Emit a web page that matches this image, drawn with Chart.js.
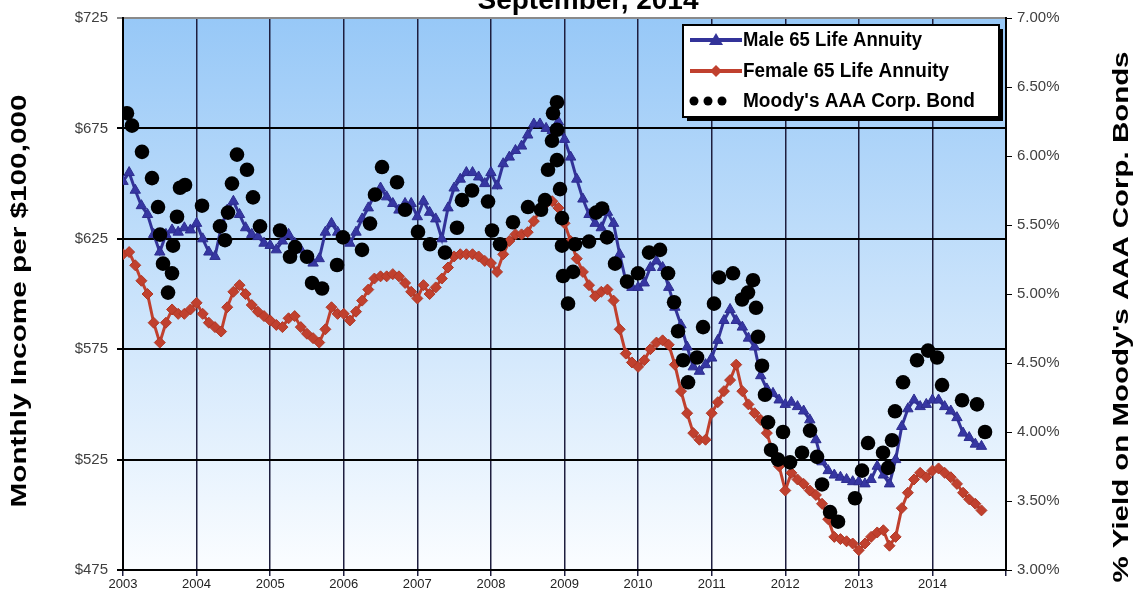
<!DOCTYPE html>
<html><head><meta charset="utf-8">
<script src="https://cdn.jsdelivr.net/npm/chart.js@4.4.0/dist/chart.umd.min.js"></script>
<style>html,body{margin:0;padding:0;background:#fff;overflow:hidden}</style>
</head><body>
<canvas id="c" width="1141" height="595"></canvas>
<script>
// ---- Data ----
const titleText = 'September, 2014';
const leftAxisTitle = 'Monthly Income per $100,000';
const rightAxisTitle = "% Yield on Moody's AAA Corp. Bonds";
const seriesNames = ['Male 65 Life Annuity', 'Female 65 Life Annuity', "Moody's AAA Corp. Bond"];
const startYear = 2003;            // first monthly point = January 2003
const yearTicks = [2003,2004,2005,2006,2007,2008,2009,2010,2011,2012,2013,2014];

const maleIncome = [
 651,655,647,640,636,627,619,627,629,628,630,629,
 632,625,619,617,630,638,642,636,630,627,626,623,
 622,620,624,627,623,620,617,614,616,628,632,628,
 626,623,628,634,639,645,648,644,641,638,641,641,
 635,642,637,634,625,639,648,652,655,655,653,650,
 655,649,659,662,665,667,672,677,677,675,674,678,
 670,662,652,643,636,632,630,637,632,618,606,603,
 603,605,612,615,612,603,594,586,576,567,565,568,
 571,579,588,593,588,585,580,576,563,557,555,552,
 550,551,549,547,543,534,524,520,518,517,516,515,
 515,514,516,522,518,514,525,540,548,552,549,550,
 552,552,549,547,544,537,535,532,531
];
const femaleIncome = [
 618,619,613,606,600,587,578,587,593,591,591,593,
 596,591,587,585,583,594,601,604,600,595,592,590,
 588,586,585,589,590,585,582,580,578,584,594,591,
 591,588,592,597,602,607,608,608,609,608,605,601,
 598,604,600,603,607,612,617,618,618,618,617,615,
 614,610,618,624,627,627,628,633,638,641,642,639,
 632,624,616,610,604,599,601,602,597,584,573,569,
 567,570,575,578,579,577,568,556,546,537,534,534,
 546,551,556,561,568,556,550,546,543,537,528,522,
 511,519,516,514,511,509,505,498,490,489,488,487,
 484,487,490,492,493,486,490,503,510,516,519,517,
 520,521,519,517,514,510,507,505,502
];
const moodyDates = [
 2003.054,2003.122,2003.258,2003.394,2003.476,2003.503,2003.544,2003.612,2003.666,2003.680,2003.734,2003.775,2003.843,
 2004.074,2004.318,2004.386,2004.427,2004.481,2004.549,2004.685,2004.767,2004.862,
 2005.134,2005.270,2005.338,2005.501,2005.569,2005.705,2005.909,2005.990,
 2006.248,2006.357,2006.425,2006.520,2006.724,2006.833,
 2007.009,2007.172,2007.376,2007.539,2007.607,2007.743,2007.961,
 2008.015,2008.124,2008.300,2008.504,2008.681,2008.735,2008.776,2008.830,2008.844,2008.898,2008.898,2008.898,2008.939,2008.966,2008.966,2008.980,
 2009.048,2009.116,2009.143,2009.333,2009.429,2009.510,2009.578,2009.687,2009.850,2009.999,
 2010.149,2010.298,2010.407,2010.489,2010.543,2010.611,2010.679,2010.801,2010.883,
 2011.032,2011.100,2011.290,2011.413,2011.494,2011.562,2011.603,2011.630,2011.684,2011.725,2011.766,2011.807,2011.902,2011.970,
 2012.065,2012.228,2012.337,2012.432,2012.500,2012.609,2012.717,2012.948,
 2013.043,2013.125,2013.329,2013.397,2013.451,2013.492,2013.601,2013.791,2013.941,
 2014.063,2014.131,2014.403,2014.606,2014.715
];
const moodyYield = [
 6.31,6.22,6.03,5.84,5.63,5.43,5.22,5.01,5.15,5.35,5.56,5.77,5.79,
 5.64,5.49,5.39,5.59,5.80,6.01,5.90,5.70,5.49,
 5.46,5.27,5.34,5.27,5.08,5.04,5.21,5.41,
 5.32,5.51,5.72,5.92,5.81,5.61,
 5.45,5.36,5.30,5.48,5.68,5.75,5.67,
 5.46,5.36,5.52,5.63,5.61,5.68,5.90,6.11,6.31,6.39,6.19,5.97,5.76,5.55,5.35,5.13,
 4.93,5.16,5.36,5.38,5.59,5.62,5.41,5.22,5.09,5.15,
 5.30,5.32,5.15,4.94,4.73,4.52,4.36,4.54,4.76,
 4.93,5.12,5.15,4.96,5.01,5.10,4.90,4.69,4.48,4.27,4.07,3.87,3.80,4.00,
 3.78,3.85,4.01,3.82,3.62,3.42,3.35,3.52,
 3.72,3.92,3.85,3.74,3.94,4.15,4.36,4.52,4.59,
 4.54,4.34,4.23,4.20,4.00
];

// ---- Styles ----
const FONT = "'Liberation Sans', Arial, sans-serif";
const MALE_COLOR = '#333399';
const FEMALE_COLOR = '#C0402E';

const toMonthly = arr => arr.map((v, i) => ({x: startYear + i / 12, y: v}));
const moodyPoints = moodyDates.map((d, i) => ({x: d, y: moodyYield[i]}));

const bgPlugin = {
  id: 'bg',
  beforeDraw(chart) {
    const {ctx, chartArea: a} = chart;
    ctx.save();
    ctx.fillStyle = '#fff';
    ctx.fillRect(0, 0, chart.width, chart.height);
    const g = ctx.createLinearGradient(0, a.top, 0, a.bottom);
    g.addColorStop(0, '#97C8F7');
    g.addColorStop(1, '#FBFDFF');
    ctx.fillStyle = g;
    ctx.fillRect(a.left, a.top, a.right - a.left, a.bottom - a.top);
    ctx.restore();
  }
};

function stretchedText(ctx, text, cx, cy, len, rot, font) {
  ctx.save();
  ctx.font = font;
  const w = ctx.measureText(text).width;
  ctx.translate(cx, cy);
  ctx.rotate(rot);
  ctx.scale(len / w, 1);
  ctx.textAlign = 'center';
  ctx.textBaseline = 'middle';
  ctx.fillStyle = '#000';
  ctx.fillText(text, 0, 0);
  ctx.restore();
}

const decorPlugin = {
  id: 'decor',
  afterDraw(chart) {
    const ctx = chart.ctx;
    // title (partly cut at top as in the original)
    ctx.save();
    ctx.font = 'bold 28px ' + FONT;
    ctx.textAlign = 'center';
    ctx.textBaseline = 'alphabetic';
    ctx.fillStyle = '#000';
    ctx.fillText(titleText, 588, 9);
    ctx.restore();
    // axis titles
    stretchedText(ctx, leftAxisTitle, 20, 301, 413, -Math.PI / 2, 'bold 22px ' + FONT);
    stretchedText(ctx, rightAxisTitle, 1122, 317, 531, -Math.PI / 2, 'bold 22px ' + FONT);
    // legend
    const L = 683, T = 25, W = 316, H = 92;
    ctx.save();
    ctx.fillStyle = '#000';
    ctx.fillRect(L + 4, T + 4, W, H);
    ctx.fillStyle = '#fff';
    ctx.fillRect(L, T, W, H);
    ctx.lineWidth = 2;
    ctx.strokeStyle = '#000';
    ctx.strokeRect(L, T, W, H);
    const rows = [40, 71, 101];
    ctx.strokeStyle = MALE_COLOR; ctx.lineWidth = 4;
    ctx.beginPath(); ctx.moveTo(690, rows[0]); ctx.lineTo(742, rows[0]); ctx.stroke();
    ctx.fillStyle = MALE_COLOR;
    ctx.beginPath(); ctx.moveTo(716, rows[0] - 7); ctx.lineTo(723, rows[0] + 5); ctx.lineTo(709, rows[0] + 5); ctx.closePath(); ctx.fill();
    ctx.strokeStyle = FEMALE_COLOR;
    ctx.beginPath(); ctx.moveTo(690, rows[1]); ctx.lineTo(742, rows[1]); ctx.stroke();
    ctx.fillStyle = FEMALE_COLOR;
    ctx.beginPath(); ctx.moveTo(716, rows[1] - 6); ctx.lineTo(722, rows[1]); ctx.lineTo(716, rows[1] + 6); ctx.lineTo(710, rows[1]); ctx.closePath(); ctx.fill();
    ctx.fillStyle = '#000';
    [694, 708, 722].forEach(x => { ctx.beginPath(); ctx.arc(x, rows[2], 4.5, 0, Math.PI * 2); ctx.fill(); });
    ctx.textBaseline = 'middle';
    ctx.textAlign = 'left';
    const targetW = [179, 206, 232];
    ctx.font = 'bold 18px ' + FONT;
    seriesNames.forEach((n, i) => {
      const w = ctx.measureText(n).width;
      ctx.save();
      ctx.translate(743, rows[i] + 1);
      ctx.scale(targetW[i] / w, 1.08);
      ctx.fillText(n, 0, 0);
      ctx.restore();
    });
    ctx.restore();
  }
};

new Chart(document.getElementById('c'), {
  type: 'line',
  data: {
    datasets: [
      {label: seriesNames[2], type: 'scatter', data: moodyPoints, yAxisID: 'y1', order: 0,
       pointStyle: 'circle', pointRadius: 7.3, backgroundColor: '#000', borderColor: '#000', borderWidth: 0, showLine: false},
      {label: seriesNames[0], data: toMonthly(maleIncome), yAxisID: 'y', order: 1,
       borderColor: MALE_COLOR, borderWidth: 3, pointStyle: 'triangle', pointRadius: 6,
       backgroundColor: '#3636A2', pointBorderColor: '#2E2E90', pointBorderWidth: 1, tension: 0},
      {label: seriesNames[1], data: toMonthly(femaleIncome), yAxisID: 'y', order: 2,
       borderColor: FEMALE_COLOR, borderWidth: 3, pointStyle: 'rectRot', pointRadius: 5.5,
       backgroundColor: FEMALE_COLOR, pointBorderColor: '#B03826', pointBorderWidth: 1, tension: 0}
    ]
  },
  options: {
    responsive: false,
    animation: false,
    devicePixelRatio: 1,
    layout: {padding: {top: 18, left: 0, right: 0, bottom: 0}},
    plugins: {legend: {display: false}, tooltip: {enabled: false}, title: {display: false}},
    scales: {
      x: {
        type: 'linear', min: 2003, max: 2015, position: 'bottom',
        afterBuildTicks: s => { s.ticks = yearTicks.concat([2015]).map(v => ({value: v})); },
        ticks: {callback: v => (yearTicks.includes(v) ? String(v) : ''), font: {family: FONT, size: 13}, color: '#222', padding: 1, maxRotation: 0, autoSkip: false},
        grid: {color: '#1E1E3E', lineWidth: 1.5, tickLength: 6},
        border: {color: '#000', width: 2},
        afterFit: s => { s.height = 25; }
      },
      y: {
        position: 'left', min: 475, max: 725,
        ticks: {stepSize: 50, callback: v => '$' + v, font: {family: FONT, size: 15}, color: '#404040', padding: 9},
        grid: {color: c => (c.tick && c.tick.value === 725 ? '#8a8a8a' : '#000'), lineWidth: 2, tickLength: 6},
        border: {color: '#000', width: 2},
        afterFit: s => { s.width = 123; }
      },
      y1: {
        position: 'right', min: 3, max: 7,
        ticks: {stepSize: 0.5, callback: v => v.toFixed(2) + '%', font: {family: FONT, size: 15}, color: '#404040', padding: 5},
        grid: {drawOnChartArea: false, color: '#000', tickLength: 6, lineWidth: 1},
        border: {color: '#000', width: 2},
        afterFit: s => { s.width = 135; }
      }
    }
  },
  plugins: [bgPlugin, decorPlugin]
});
</script>
</body></html>
